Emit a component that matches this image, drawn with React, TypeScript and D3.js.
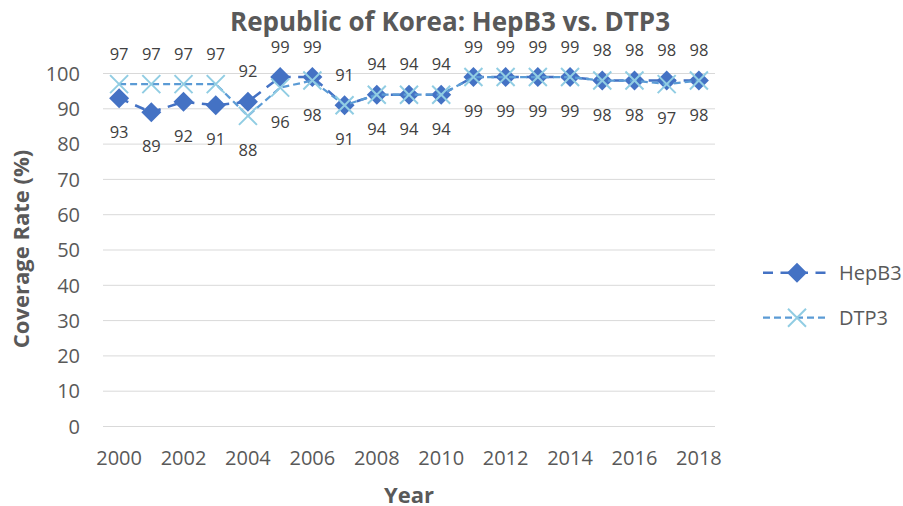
import React from "react";
import * as d3 from "d3";

const years: number[] = d3.range(2000, 2019);
const hepB3: number[] = [93, 89, 92, 91, 92, 99, 99, 91, 94, 94, 94, 99, 99, 99, 99, 98, 98, 98, 98];
const dtp3: number[] = [97, 97, 97, 97, 88, 96, 98, 91, 94, 94, 94, 99, 99, 99, 99, 98, 98, 97, 98];
const yTicks: number[] = [0, 10, 20, 30, 40, 50, 60, 70, 80, 90, 100];
const xTickYears: number[] = years.filter((y) => (y - 2000) % 2 === 0);

const W = 903;
const H = 506;
const FONT = "'Open Sans', 'Noto Sans', sans-serif";
const HEP = "#4472C4";
const DTP_LINE = "#5B9BD5";
const DTP_MARK = "#91CDE3";

export default function App() {
  const x = d3.scaleBand<number>().domain(years).range([103, 715]);
  const cx = (yr: number) => (x(yr) as number) + x.bandwidth() / 2;
  const y = d3.scaleLinear().domain([0, 100]).range([426.5, 73.5]);

  const line = d3
    .line<number>()
    .x((_, i) => cx(years[i]))
    .y((v) => y(v));

  const diamond = (px: number, py: number, r: number) =>
    `M${px},${py - r}L${px + r},${py}L${px},${py + r}L${px - r},${py}Z`;
  const cross = (px: number, py: number, r: number) =>
    `M${px - r},${py - r}L${px + r},${py + r}M${px - r},${py + r}L${px + r},${py - r}`;

  return (
    <svg width={W} height={H} style={{ display: "block", position: "absolute", left: 0, top: 0 }} fontFamily={FONT}>
      <rect width={W} height={H} fill="#fff" />
      <text x={450} y={31} textAnchor="middle" fontSize={26} fontWeight="bold" fill="#595959">
        Republic of Korea: HepB3 vs. DTP3
      </text>
      {yTicks.map((t) => (
        <g key={t}>
          <line x1={103} x2={715} y1={y(t)} y2={y(t)} stroke="#D9D9D9" strokeWidth={1} />
          <text x={80} y={y(t)} dy="0.36em" textAnchor="end" fontSize={20} fill="#595959">
            {t}
          </text>
        </g>
      ))}
      {xTickYears.map((yr) => (
        <text key={yr} x={cx(yr)} y={465} textAnchor="middle" fontSize={20} fill="#595959">
          {yr}
        </text>
      ))}
      <text x={409} y={502.5} textAnchor="middle" fontSize={22} fontWeight="bold" fill="#595959">
        Year
      </text>
      <text
        transform="translate(28.5,249) rotate(-90)"
        textAnchor="middle"
        fontSize={22}
        fontWeight="bold"
        fill="#595959"
      >
        Coverage Rate (%)
      </text>

      <path d={line(hepB3) || ""} fill="none" stroke={HEP} strokeWidth={2.5} strokeDasharray="10,7.5" />
      {hepB3.map((v, i) => (
        <path key={"h" + i} d={diamond(cx(years[i]), y(v), 10)} fill={HEP} />
      ))}
      <path d={line(dtp3) || ""} fill="none" stroke={DTP_LINE} strokeWidth={2.25} strokeDasharray="7,4" />
      {dtp3.map((v, i) => (
        <path key={"d" + i} d={cross(cx(years[i]), y(v), 9)} fill="none" stroke={DTP_MARK} strokeWidth={2} />
      ))}

      {years.map((yr, i) => {
        const hi = Math.max(hepB3[i], dtp3[i]);
        const lo = Math.min(hepB3[i], dtp3[i]);
        return (
          <g key={"l" + yr} fontSize={16.5} fill="#404040" textAnchor="middle">
            <text x={cx(yr)} y={y(hi) - 24.5}>{hi}</text>
            <text x={cx(yr)} y={y(lo) + 40}>{lo}</text>
          </g>
        );
      })}

      <g>
        <line x1={763} x2={827} y1={272.7} y2={272.7} stroke={HEP} strokeWidth={2.5} strokeDasharray="10,7.5" />
        <path d={diamond(797, 272.7, 10)} fill={HEP} />
        <text x={839} y={272.7} dy="0.36em" fontSize={20} fill="#595959">HepB3</text>
        <line x1={763} x2={827} y1={317.7} y2={317.7} stroke={DTP_LINE} strokeWidth={2.25} strokeDasharray="7,4" />
        <path d={cross(797, 317.7, 9)} fill="none" stroke={DTP_MARK} strokeWidth={2} />
        <text x={839} y={317.7} dy="0.36em" fontSize={20} fill="#595959">DTP3</text>
      </g>
    </svg>
  );
}
